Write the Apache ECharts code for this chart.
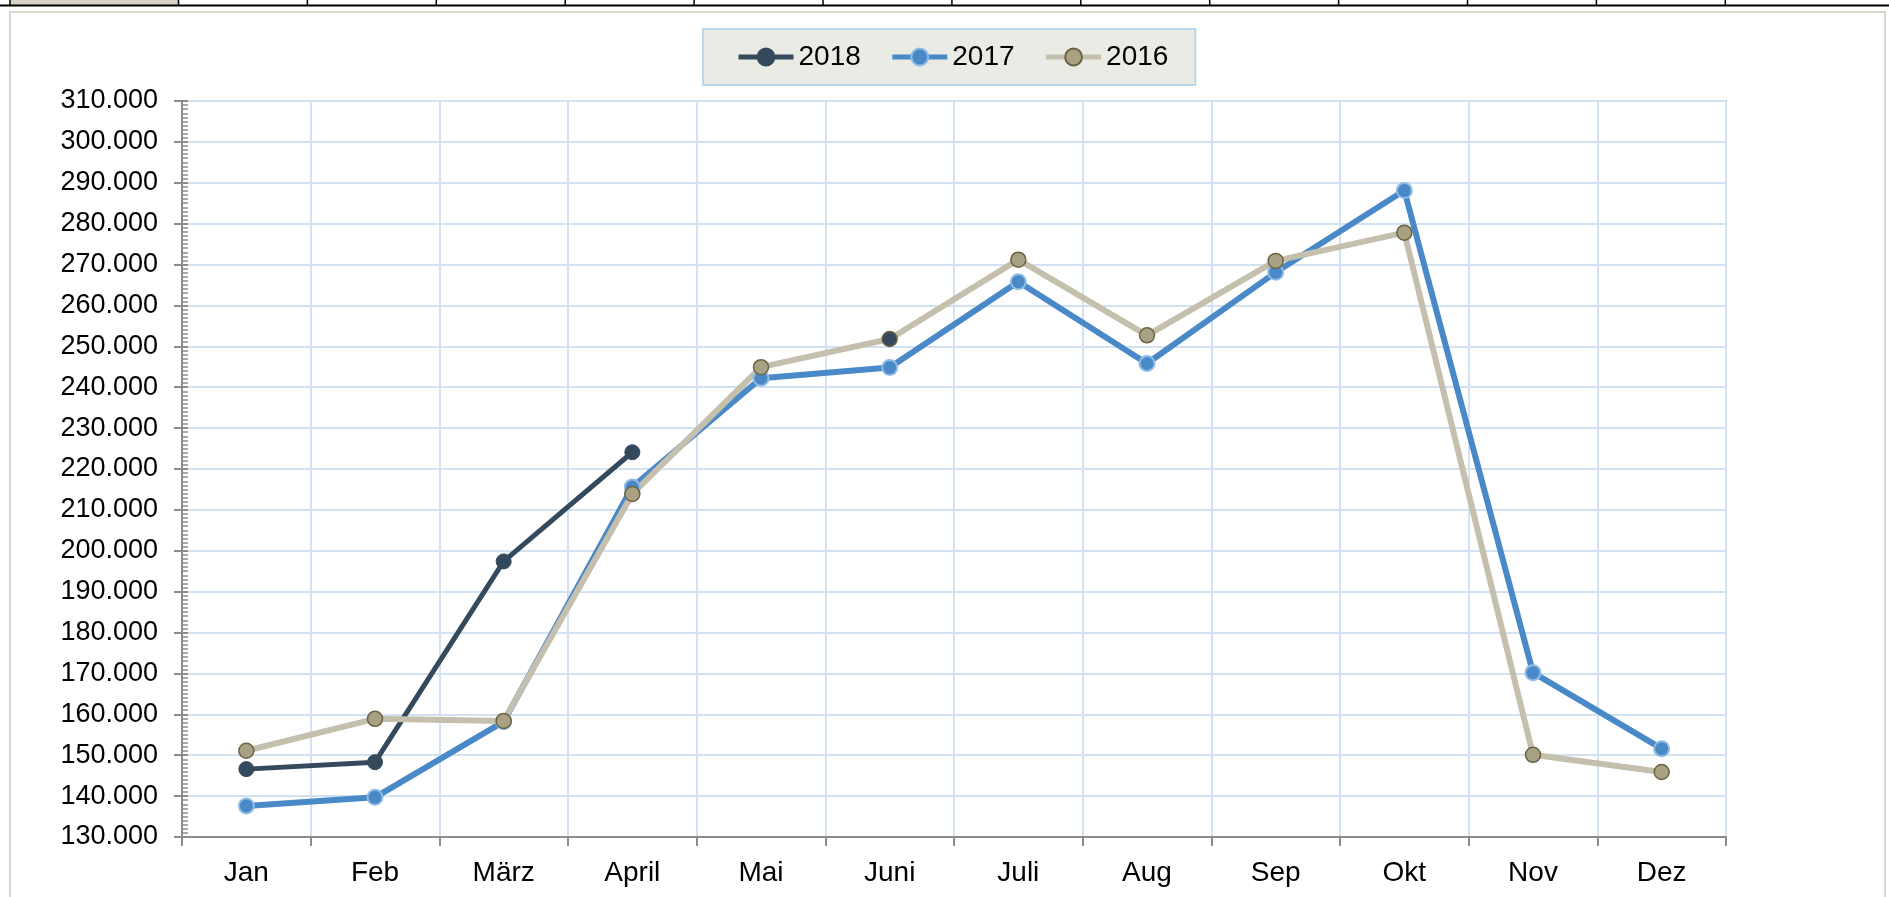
<!DOCTYPE html>
<html>
<head>
<meta charset="utf-8">
<script src="https://cdn.jsdelivr.net/npm/echarts@6/dist/echarts.min.js"></script>
<style>
html,body{margin:0;padding:0;background:#fff;}
#c{width:1889px;height:897px;}
</style>
</head>
<body>
<div id="c"></div>
<script>
var months = ['Jan','Feb','März','April','Mai','Juni','Juli','Aug','Sep','Okt','Nov','Dez'];
var s2018 = [146600, 148300, 197400, 224100, null, null, null, null, null, null, null, null];
var s2017 = [137600, 139700, 158200, 215600, 242200, 244800, 265800, 245800, 268100, 288100, 170200, 151600];
var s2016 = [151100, 158900, 158400, 213900, 244900, 251800, 271200, 252700, 270900, 277800, 150100, 145900];
var yMin = 130000, yMax = 310000, yStep = 10000;

var FONT = '"Liberation Sans", Arial, sans-serif';
function fmt(v){ return String(v).replace(/\B(?=(\d{3})+(?!\d))/g, '.'); }

var chart = echarts.init(document.getElementById('c'), null, {renderer:'canvas'});

// decoration: spreadsheet header strip + chart frame
var gfx = [];
gfx.push({type:'rect', shape:{x:10,y:12,width:1875,height:900}, style:{fill:'#fff', stroke:'#d9d5cc', lineWidth:2}, z:-10});
gfx.push({type:'rect', shape:{x:10,y:0,width:169,height:5}, style:{fill:'#d6d3c4'}, z:-9});
gfx.push({type:'line', shape:{x1:0,y1:5.5,x2:1889,y2:5.5}, style:{stroke:'#000', lineWidth:2}, z:-8});
for (var i = 0; i < 13; i++) {
  var x = 178.5 + i * 128.9;
  gfx.push({type:'line', shape:{x1:x,y1:0,x2:x,y2:5}, style:{stroke:'#000', lineWidth:1.5}, z:-8});
}
gfx.push({type:'line', shape:{x1:10,y1:0,x2:10,y2:5}, style:{stroke:'#000', lineWidth:1.5}, z:-8});

var data2016 = s2016.map(function(v, i){
  if (months[i] === 'Juni') return {value:v, itemStyle:{color:'#34495c', borderColor:'#6b6343'}};
  return v;
});

chart.setOption({
  animation:false,
  backgroundColor:'#fff',
  graphic: gfx,
  grid:{left:182, right:163, top:101, bottom:60, show:true, borderColor:'#9bbfe2', borderWidth:2, backgroundColor:'transparent'},
  legend:{
    left:703, top:29,
    padding:[14, 27, 14, 33],
    itemGap:29,
    itemWidth:55, itemHeight:21,
    backgroundColor:'#ebebe6',
    borderColor:'#b9d7ea', borderWidth:2,
    selectedMode:false,
    textStyle:{fontSize:28, color:'#000', fontFamily:FONT},
    lineStyle:{width:5},
    data:['2018','2017','2016']
  },
  xAxis:{
    type:'category',
    data:months,
    boundaryGap:true,
    axisLine:{lineStyle:{color:'#8c8c8c', width:2}},
    axisTick:{show:true, interval:0, length:9, lineStyle:{color:'#8c8c8c', width:2}},
    axisLabel:{interval:0, margin:22, fontSize:28, color:'#000', fontFamily:FONT},
    splitLine:{show:true, interval:0, lineStyle:{color:'#d3e2f2', width:2}}
  },
  yAxis:[{
    type:'value', min:yMin, max:yMax, interval:yStep,
    axisLine:{show:true, lineStyle:{color:'#8c8c8c', width:2}},
    axisTick:{show:true, length:8, lineStyle:{color:'#8c8c8c', width:2}},
    axisLabel:{margin:24, fontSize:27, color:'#000', fontFamily:FONT, formatter:fmt},
    splitLine:{show:true, lineStyle:{color:'#d3e2f2', width:2}}
  },{
    type:'value', min:yMin, max:yMax, interval:yStep, position:'left', offset:0,
    axisLine:{show:false},
    axisTick:{show:true, inside:true, length:6, lineStyle:{color:'#8c8c8c', width:2}},
    minorTick:{show:true, splitNumber:10, length:6, lineStyle:{color:'#8c8c8c', width:1.5}},
    axisLabel:{show:false},
    splitLine:{show:false}
  }],
  series:[{
    name:'2018', type:'line', data:s2018, yAxisIndex:0,
    symbol:'circle', symbolSize:15, showSymbol:true, connectNulls:false,
    lineStyle:{color:'#34495c', width:5},
    itemStyle:{color:'#34495c', borderColor:'#34495c', borderWidth:1}
  },{
    name:'2017', type:'line', data:s2017, yAxisIndex:0,
    symbol:'circle', symbolSize:15, showSymbol:true,
    lineStyle:{color:'#4a89c8', width:6},
    itemStyle:{color:'#4a89c8', borderColor:'#8fbbe6', borderWidth:2}
  },{
    name:'2016', type:'line', data:data2016, yAxisIndex:0,
    symbol:'circle', symbolSize:15, showSymbol:true,
    lineStyle:{color:'#c5c0ae', width:6},
    itemStyle:{color:'#a8a183', borderColor:'#6b6343', borderWidth:1.5}
  }]
});
</script>
</body>
</html>
